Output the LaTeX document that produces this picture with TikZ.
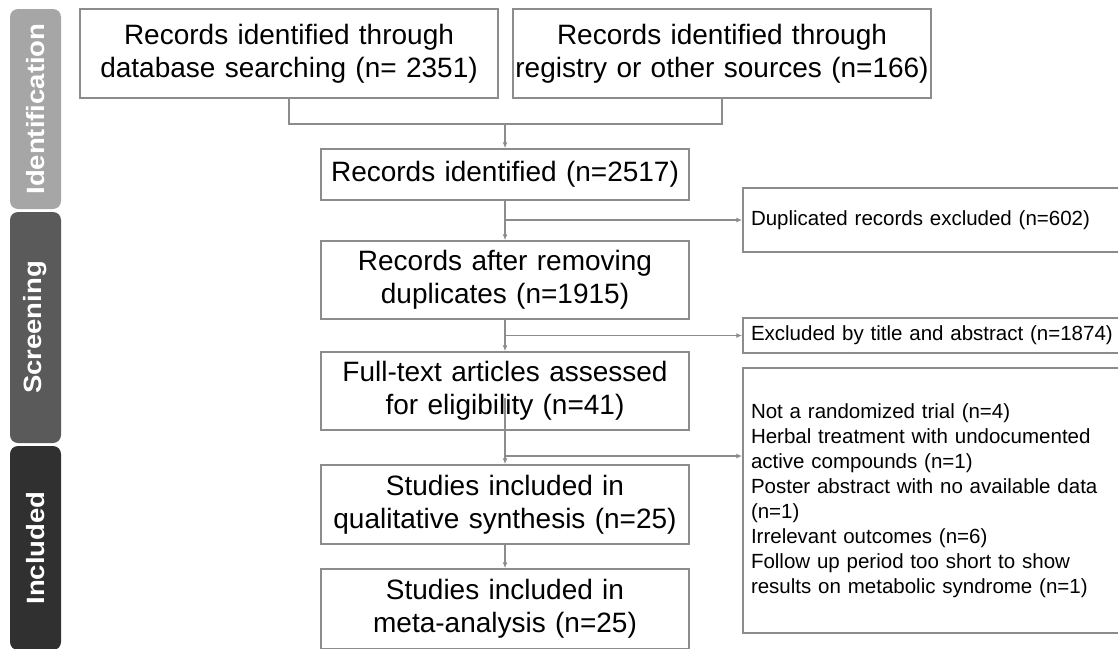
\documentclass[tikz,border=0pt]{standalone}
\usepackage{fontspec}
\setmainfont{Liberation Sans}
\usetikzlibrary{arrows.meta, positioning}

\definecolor{boxgray}{RGB}{140,140,140}
\definecolor{idgray}{RGB}{166,166,166}
\definecolor{scrgray}{RGB}{90,90,90}
\definecolor{incgray}{RGB}{48,48,48}

\begin{document}
\begin{tikzpicture}[x=1pt,y=-1pt,
  mainbox/.style={draw=boxgray,line width=1.5pt,inner sep=0pt,align=center,
    text width=#1,font=\fontsize{28}{33}\selectfont},
  exclbox/.style={draw=boxgray,line width=1.5pt,inner xsep=8pt,inner ysep=0pt,
    align=left,text width=371pt,minimum height=#1,font=\fontsize{20.5}{25}\selectfont},
  phase/.style={rotate=90,rounded corners=8pt,minimum width=#1,minimum height=51pt,
    inner sep=0pt,text=white,font=\fontsize{25}{28}\selectfont\bfseries},
  lnk/.style={draw=boxgray,line width=1.2pt},
  arr/.style={lnk,-{Latex[length=6pt,width=5pt]}}]
\useasboundingbox (0,0) rectangle (1118,648);
\clip (0,0) rectangle (1118,648);

% phase bars
\node[phase=200pt,fill=idgray] (idbar) at (35.5,109) {\scalebox{1.1}[1]{Identification}};
\node[phase=231pt,fill=scrgray] (scbar) at (35.5,327.5) {\scalebox{1.1}[1]{Screening}};
\node[phase=204pt,fill=incgray] (incbar) at (35.5,548) {\scalebox{1.1}[1]{Included}};

% main boxes
\node[mainbox=418pt,minimum height=89pt] (db) at (289,53.5) {Records identified through\\database searching (n= 2351)};
\node[mainbox=418pt,minimum height=89pt] (reg) at (722,53.5) {Records identified through\\registry or other sources (n=166)};
\node[mainbox=368pt,minimum height=51pt] (ident) at (505,174.5) {Records identified (n=2517)};
\node[mainbox=368pt,minimum height=78pt] (dedup) at (505,280) {Records after removing\\duplicates (n=1915)};
\node[mainbox=368pt,minimum height=78pt] (full) at (505,391) {Full-text articles assessed\\for eligibility (n=41)};
\node[mainbox=368pt,minimum height=79pt] (qual) at (505,504.5) {Studies included in\\qualitative synthesis (n=25)};
\node[mainbox=368pt,minimum height=80pt] (meta) at (505,609) {Studies included in\\meta-analysis (n=25)};

% excluded boxes
\node[exclbox=64pt] (exdup) at (936.5,220) {Duplicated records excluded (n=602)};
\node[exclbox=35pt] (extitle) at (936.5,335.5) {Excluded by title and abstract (n=1874)};
\node[exclbox=265pt] (exfull) at (936.5,500.5) {Not a randomized trial (n=4)\\Herbal treatment with undocumented\\active compounds (n=1)\\Poster abstract with no available data\\(n=1)\\Irrelevant outcomes (n=6)\\Follow up period too short to show\\results on metabolic syndrome (n=1)};

% connectors
\coordinate (join) at (505,124);
\draw[lnk] (db.south) |- (join) -| (reg.south);
\draw[arr] (join) -- (ident.north);
\draw[arr] (ident.south) -- (dedup.north);
\draw[arr] (ident.south |- exdup.west) -- (exdup.west);
\draw[arr] (dedup.south) -- (full.north);
\draw[arr] (dedup.south |- extitle.west) -- (extitle.west);
\coordinate (cross) at (505,398);
\coordinate (split) at (505,456);
\draw[arr] (cross) -- (qual.north);
\draw[arr] (split) -- (split -| exfull.west);
\draw[arr] (qual.south) -- (meta.north);
\end{tikzpicture}
\end{document}
